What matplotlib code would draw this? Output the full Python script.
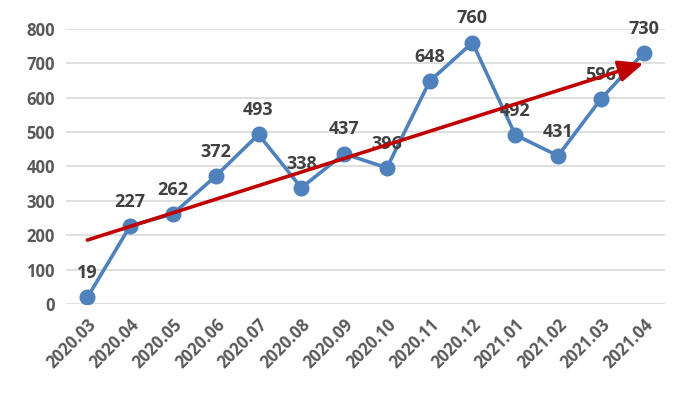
import numpy as np
import matplotlib.pyplot as plt

# data
months = ['2020.03', '2020.04', '2020.05', '2020.06', '2020.07', '2020.08', '2020.09',
          '2020.10', '2020.11', '2020.12', '2021.01', '2021.02', '2021.03', '2021.04']
counts = [19, 227, 262, 372, 493, 338, 437, 396, 648, 760, 492, 431, 596, 730]
trend_start = 186
trend_end = 700

plt.rcParams['font.family'] = ['Open Sans', 'DejaVu Sans']

fig = plt.figure(figsize=(6.87, 4.07), dpi=100)
ax = fig.add_axes([0.096, 0.253, 0.872, 0.676])

x = np.arange(len(months))
ax.plot(x, counts, color='#4F81BD', lw=2.6, marker='o', ms=10.5, zorder=3)

for xi, v in zip(x, counts):
    ax.annotate(str(v), (xi, v), xytext=(0, 11), textcoords='offset points',
                ha='center', va='bottom', fontsize=13, fontweight='bold',
                color='#404040', zorder=4)

# trend arrow
ax.annotate('', xy=(x[-1], trend_end), xytext=(x[0], trend_start),
            arrowprops=dict(arrowstyle='-|>,head_length=1.5,head_width=0.65',
                            color='#C00000', lw=2.6, shrinkA=0, shrinkB=0),
            zorder=5)

ax.set_xlim(-0.5, len(months) - 0.5)
ax.set_ylim(0, 800)
ax.set_yticks(range(0, 801, 100))
ax.set_xticks(x)
ax.set_xticklabels(months, rotation=45, ha='right', rotation_mode='anchor')
ax.tick_params(length=0, labelsize=12, labelcolor='#595959', pad=8)
for lab in ax.get_xticklabels() + ax.get_yticklabels():
    lab.set_fontweight('bold')
ax.yaxis.grid(True, color='#D9D9D9', lw=1.2)
ax.set_axisbelow(True)
for s in ax.spines.values():
    s.set_visible(False)

fig.savefig('out.png', dpi=100)
